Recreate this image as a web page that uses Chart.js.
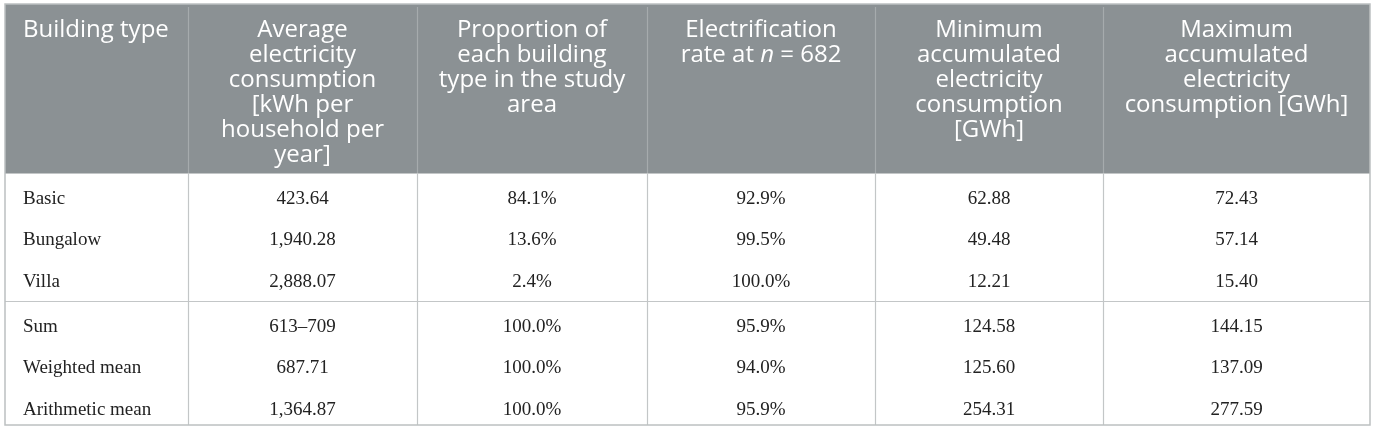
<!DOCTYPE html>
<html>
<head>
<meta charset="utf-8">
<script src="https://cdn.jsdelivr.net/npm/chart.js@4.4.1/dist/chart.umd.min.js"></script>
<style>
  html, body { margin: 0; padding: 0; background: #fff; }
  .chart-container { width: 1375px; height: 432px; position: relative; }
</style>
</head>
<body>
<div class="chart-container"><canvas id="table"></canvas></div>
<script>
// table values
const rowLabels = ["Basic", "Bungalow", "Villa", "Sum", "Weighted mean", "Arithmetic mean"];
const avgConsumption = ["423.64", "1,940.28", "2,888.07", "613\u2013709", "687.71", "1,364.87"];
const buildingShare = ["84.1%", "13.6%", "2.4%", "100.0%", "100.0%", "100.0%"];
const electrificationRate = ["92.9%", "99.5%", "100.0%", "95.9%", "94.0%", "95.9%"];
const minAccumulated = ["62.88", "49.48", "12.21", "124.58", "125.60", "254.31"];
const maxAccumulated = ["72.43", "57.14", "15.40", "144.15", "137.09", "277.59"];

const headers = [
  ["Building type"],
  ["Average", "electricity", "consumption", "[kWh per", "household per", "year]"],
  ["Proportion of", "each building", "type in the study", "area"],
  ["Electrification", "rate at |n| = 682"],   // |n| = italic
  ["Minimum", "accumulated", "electricity", "consumption", "[GWh]"],
  ["Maximum", "accumulated", "electricity", "consumption [GWh]"]
];

const columns = [rowLabels, avgConsumption, buildingShare, electrificationRate, minAccumulated, maxAccumulated];

// layout in table units (1 unit = 1 px)
const colWidths = [183, 229, 230, 228, 228, 267];
const headerHeight = 169;
const groupSize = 3;
const groupTops = [169, 297];
const rowHeight = 41.5;
const firstBaseline = 30.5;
const headerBaseline = 33;
const headerLineHeight = 25;
const leftPad = 18;

const colEdges = [0];
colWidths.forEach((w, i) => colEdges.push(colEdges[i] + w));
const tableWidth = colEdges[colEdges.length - 1];
const tableHeight = 421;

const headerFont = "24px 'Open Sans'";
const headerItalic = "italic 24px 'Open Sans'";
const bodyFont = "19px 'Liberation Serif'";

function rowBaseline(i) {
  const g = Math.floor(i / groupSize);
  return groupTops[g] + firstBaseline + rowHeight * (i % groupSize);
}

function cellX(c) {
  return c === 0 ? colEdges[0] + leftPad : (colEdges[c] + colEdges[c + 1]) / 2;
}

const datasets = columns.map((col, c) => ({
  label: "col" + c,
  data: col.map((v, i) => ({ x: cellX(c), y: rowBaseline(i), text: v })),
  pointRadius: 0,
  pointHoverRadius: 0
}));

function drawMixed(ctx, line, x, y, align) {
  const parts = line.split("|");
  const fonts = parts.map((p, i) => (i % 2 === 1 ? headerItalic : headerFont));
  let total = 0;
  const widths = parts.map((p, i) => {
    ctx.font = fonts[i];
    const w = ctx.measureText(p).width;
    total += w;
    return w;
  });
  let cx = align === "left" ? x : x - total / 2;
  ctx.textAlign = "left";
  parts.forEach((p, i) => {
    ctx.font = fonts[i];
    ctx.fillText(p, cx, y);
    cx += widths[i];
  });
}

const tablePlugin = {
  id: "tablePlugin",
  beforeDatasetsDraw(chart) {
    const { ctx, scales: { x, y } } = chart;
    const px = v => x.getPixelForValue(v);
    const py = v => y.getPixelForValue(v);
    ctx.save();
    // header background
    ctx.fillStyle = "#8b9194";
    ctx.fillRect(px(0), py(0), px(tableWidth) - px(0), py(headerHeight) - py(0));

    ctx.lineWidth = 1.2;
    // header column separators
    ctx.strokeStyle = "#a6abad";
    for (let c = 1; c < colWidths.length; c++) {
      const xx = Math.round(px(colEdges[c])) + 0.5;
      ctx.beginPath();
      ctx.moveTo(xx, py(3));
      ctx.lineTo(xx, py(headerHeight));
      ctx.stroke();
    }
    // body column separators
    ctx.strokeStyle = "#c3c6c7";
    for (let c = 1; c < colWidths.length; c++) {
      const xx = Math.round(px(colEdges[c])) + 0.5;
      ctx.beginPath();
      ctx.moveTo(xx, py(headerHeight));
      ctx.lineTo(xx, py(tableHeight));
      ctx.stroke();
    }
    // horizontal rules
    [headerHeight, groupTops[1]].forEach(v => {
      const yy = Math.round(py(v)) + 0.5;
      ctx.beginPath();
      ctx.moveTo(px(0), yy);
      ctx.lineTo(px(tableWidth), yy);
      ctx.stroke();
    });
    // outer border
    ctx.strokeStyle = "#bcc0c1";
    ctx.lineWidth = 1.5;
    ctx.strokeRect(px(0), py(0), px(tableWidth) - px(0), py(tableHeight) - py(0));
    ctx.restore();
  },
  afterDatasetsDraw(chart) {
    const { ctx, scales: { x, y } } = chart;
    ctx.save();
    ctx.textBaseline = "alphabetic";
    // header text
    ctx.fillStyle = "#ffffff";
    headers.forEach((lines, c) => {
      lines.forEach((line, k) => {
        const xx = x.getPixelForValue(cellX(c));
        const yy = y.getPixelForValue(headerBaseline + headerLineHeight * k);
        drawMixed(ctx, line, xx, yy, c === 0 ? "left" : "center");
      });
    });
    // body cells, placed by the dataset points
    ctx.fillStyle = "#222222";
    ctx.font = bodyFont;
    chart.data.datasets.forEach((ds, c) => {
      const meta = chart.getDatasetMeta(c);
      ctx.textAlign = c === 0 ? "left" : "center";
      meta.data.forEach((pt, i) => {
        ctx.fillText(ds.data[i].text, pt.x, pt.y);
      });
    });
    ctx.restore();
  }
};

new Chart(document.getElementById("table").getContext("2d"), {
  type: "scatter",
  data: { datasets },
  options: {
    responsive: true,
    maintainAspectRatio: false,
    animation: false,
    events: [],
    layout: { padding: { left: 5, top: 4, right: 5, bottom: 7 } },
    scales: {
      x: { type: "linear", min: 0, max: tableWidth, display: false },
      y: { type: "linear", min: 0, max: tableHeight, reverse: true, display: false }
    },
    plugins: {
      legend: { display: false },
      tooltip: { enabled: false }
    }
  },
  plugins: [tablePlugin]
});
</script>
</body>
</html>
